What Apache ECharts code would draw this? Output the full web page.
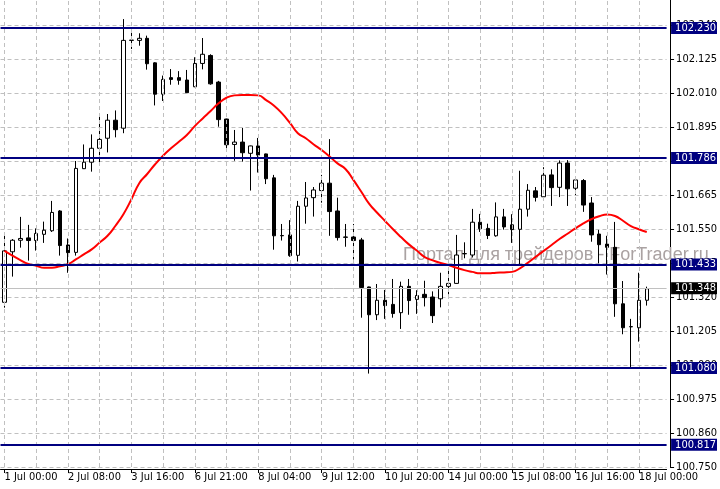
<!DOCTYPE html>
<html><head><meta charset="utf-8">
<script src="https://cdn.jsdelivr.net/npm/echarts@6/dist/echarts.min.js"></script>
<style>html,body{margin:0;padding:0;background:#fff}#c{width:720px;height:489px}</style>
</head><body><div id="c"></div>
<script>
// ---- data ----
const xTickLabels = ['1 Jul 00:00','2 Jul 08:00','3 Jul 16:00','6 Jul 21:00','8 Jul 04:00','9 Jul 12:00','10 Jul 20:00','14 Jul 00:00','15 Jul 08:00','16 Jul 16:00','18 Jul 00:00'];
const opens = [101.302,101.473,101.512,101.520,101.511,101.532,101.544,101.611,101.496,101.471,
101.754,101.776,101.823,101.857,101.918,101.891,102.188,102.188,102.195,102.112,
102.006,102.062,102.062,102.054,102.031,102.110,102.137,102.047,101.922,101.836,
101.844,101.806,101.831,101.804,101.723,101.528,101.530,101.461,101.627,101.656,
101.680,101.705,101.611,101.523,101.523,101.513,101.354,101.260,101.309,101.295,
101.267,101.356,101.312,101.329,101.320,101.314,101.356,101.366,101.466,101.462,
101.573,101.552,101.527,101.591,101.564,101.549,101.617,101.679,101.659,101.733,
101.691,101.773,101.688,101.714,101.638,101.533,101.499,101.488,101.297,101.219,
101.216,101.309];
const closes = [101.476,101.512,101.518,101.511,101.535,101.546,101.606,101.494,101.470,101.755,
101.776,101.823,101.853,101.918,101.886,102.188,102.189,102.195,102.109,102.006,
102.056,102.056,102.053,102.011,102.110,102.141,102.041,101.920,101.835,101.844,
101.808,101.831,101.800,101.720,101.527,101.527,101.460,101.627,101.655,101.682,
101.705,101.609,101.521,101.522,101.511,101.352,101.260,101.309,101.291,101.264,
101.356,101.308,101.325,101.318,101.257,101.356,101.366,101.462,101.467,101.573,
101.551,101.528,101.591,101.557,101.548,101.617,101.681,101.657,101.732,101.690,
101.773,101.686,101.716,101.631,101.530,101.497,101.488,101.297,101.216,101.220,
101.309,101.348];
const highs = [101.527,101.516,101.591,101.564,101.552,101.575,101.645,101.614,101.518,101.780,
101.836,101.870,101.936,101.939,101.951,102.260,102.213,102.212,102.204,102.114,
102.069,102.091,102.084,102.088,102.131,102.196,102.141,102.051,101.923,101.885,
101.892,101.832,101.858,101.805,101.733,101.567,101.580,101.645,101.709,101.692,
101.733,101.854,101.656,101.567,101.567,101.520,101.355,101.364,101.344,101.381,
101.372,101.381,101.343,101.375,101.339,101.402,101.408,101.530,101.505,101.618,
101.601,101.568,101.640,101.618,101.600,101.747,101.702,101.692,101.759,101.752,
101.782,101.783,101.724,101.719,101.658,101.547,101.527,101.574,101.374,101.246,
101.402,101.355];
const lows = [101.284,101.389,101.487,101.443,101.477,101.503,101.540,101.460,101.402,101.460,
101.753,101.744,101.773,101.809,101.860,101.874,102.159,102.170,102.089,101.968,
101.983,102.038,102.038,102.010,102.030,102.090,102.038,101.896,101.814,101.781,
101.778,101.680,101.741,101.702,101.480,101.511,101.456,101.440,101.568,101.592,
101.639,101.527,101.511,101.490,101.447,101.250,101.061,101.242,101.246,101.250,
101.212,101.260,101.263,101.288,101.232,101.285,101.329,101.365,101.451,101.454,
101.540,101.516,101.524,101.548,101.503,101.428,101.592,101.643,101.656,101.628,
101.658,101.628,101.665,101.608,101.507,101.434,101.396,101.253,101.194,101.080,
101.169,101.291];
const movingAverage = [101.476,101.460,101.445,101.432,101.426,101.419,101.419,101.424,101.431,101.447,
101.464,101.481,101.504,101.527,101.561,101.600,101.650,101.705,101.736,101.769,
101.798,101.823,101.845,101.868,101.898,101.924,101.949,101.975,101.994,102.002,
102.003,102.003,102.002,101.986,101.967,101.941,101.909,101.874,101.857,101.836,
101.817,101.795,101.772,101.753,101.716,101.676,101.635,101.605,101.577,101.549,
101.523,101.498,101.477,101.455,101.444,101.435,101.428,101.419,101.411,101.405,
101.400,101.400,101.402,101.403,101.405,101.417,101.436,101.456,101.476,101.496,
101.516,101.534,101.552,101.569,101.583,101.593,101.599,101.594,101.578,101.560,
101.549,101.540];
const levels = [102.230, 101.786, 101.433, 101.080, 100.817];
const lastPrice = 101.348;
const yTickLabels = ['100.750','100.860','100.975','101.090','101.205','101.320','101.435','101.550','101.665','101.780','101.895','102.010','102.125','102.240'];
const watermark = 'Портал для трейдеров - ForTrader.ru';

// ---- build ----
const SLOTS = 84;          // visible bar slots on the time axis
const LABEL_EVERY = 8;     // a time label every 8 bars
const GRID_EVERY = 4;      // a vertical grid line every 4 bars
const Y_MIN = 100.745, Y_MAX = 102.3246, Y_STEP = 0.115;
const FONT = "'Liberation Sans Narrow','DejaVu Sans Condensed','Liberation Sans',Arial,sans-serif";

const categories = [];
for (let i = 0; i < SLOTS; i++) categories.push(i % LABEL_EVERY === 0 ? (xTickLabels[i / LABEL_EVERY] || '') : '');
const candles = opens.map((o, i) => [o, closes[i], lows[i], highs[i]]);
const vGrid = [];
for (let i = 0; i < xTickLabels.length * LABEL_EVERY; i += GRID_EVERY) vGrid.push({ xAxis: i });

const levelLabel = (bg) => ({
  show: true, position: 'end', distance: 4.5,
  formatter: '{b}',
  color: '#fff', backgroundColor: bg, padding: [1, 1, 0, 4],
  fontSize: 11, fontFamily: FONT, lineHeight: 11
});

const chart = echarts.init(document.getElementById('c'), null, { renderer: 'canvas' });
chart.setOption({
  animation: false,
  backgroundColor: '#ffffff',
  grid: { left: 0.5, width: 672, top: 0, bottom: 22, containLabel: false },
  xAxis: {
    type: 'category', data: categories, boundaryGap: true, offset: 2,
    axisLine: { lineStyle: { color: '#000', width: 1 } },
    axisTick: { show: true, alignWithLabel: true, length: 4, lineStyle: { color: '#000' },
      interval: (idx) => idx % LABEL_EVERY === 0 },
    axisLabel: { interval: (idx) => idx % LABEL_EVERY === 0, align: 'left', margin: 3,
      color: '#000', fontSize: 11, fontFamily: FONT },
    splitLine: { show: false }
  },
  yAxis: {
    type: 'value', position: 'right', min: Y_MIN, max: Y_MAX, interval: Y_STEP, offset: 3.5, scale: true,
    axisLine: { show: true, lineStyle: { color: '#000', width: 1 } },
    axisTick: { show: true, inside: false, length: 4, lineStyle: { color: '#000' } },
    axisLabel: { color: '#000', fontSize: 11, fontFamily: FONT, margin: 6, showMaxLabel: false,
      formatter: function (v) {
        const k = Math.round((v - Y_MIN) / Y_STEP);
        return (Math.abs(v - (Y_MIN + k * Y_STEP)) < 1e-6 && yTickLabels[k]) || '';
      } },
    splitLine: { show: true, showMaxLine: false, lineStyle: { color: '#c0c0c0', type: [4, 3], width: 1 } }
  },
  graphic: [{
    type: 'text', left: 403, top: 246, z: 1, silent: true,
    style: { text: watermark, fill: '#aaa2a2', font: "18px 'Liberation Sans', Arial, sans-serif" }
  }],
  series: [
    { type: 'line', data: [], z: 1, silent: true,
      markLine: { silent: true, symbol: ['none', 'none'], animation: false,
        label: { show: false }, emphasis: { disabled: true },
        lineStyle: { color: '#c0c0c0', type: [4, 3], width: 1 }, data: vGrid } },
    { type: 'line', data: [], z: 2, silent: true,
      markLine: { silent: true, symbol: ['none', 'none'], animation: false, emphasis: { disabled: true },
        data: [{ name: lastPrice.toFixed(3), yAxis: lastPrice, lineStyle: { color: '#c0c0c0', type: 'solid', width: 1 }, label: levelLabel('#000') }]
          .concat(levels.map(v => ({ name: v.toFixed(3), yAxis: v, lineStyle: { color: '#000080', type: 'solid', width: 2 }, label: levelLabel('#000080') }))) } },
    { type: 'candlestick', data: candles, z: 3, barWidth: 4,
      itemStyle: { color: '#ffffff', color0: '#000000', borderColor: '#000000', borderColor0: '#000000', borderWidth: 1 } },
    { type: 'line', data: movingAverage, z: 4, showSymbol: false, smooth: true,
      lineStyle: { color: '#ff0000', width: 2 }, itemStyle: { color: '#ff0000' } }
  ]
});
</script></body></html>
